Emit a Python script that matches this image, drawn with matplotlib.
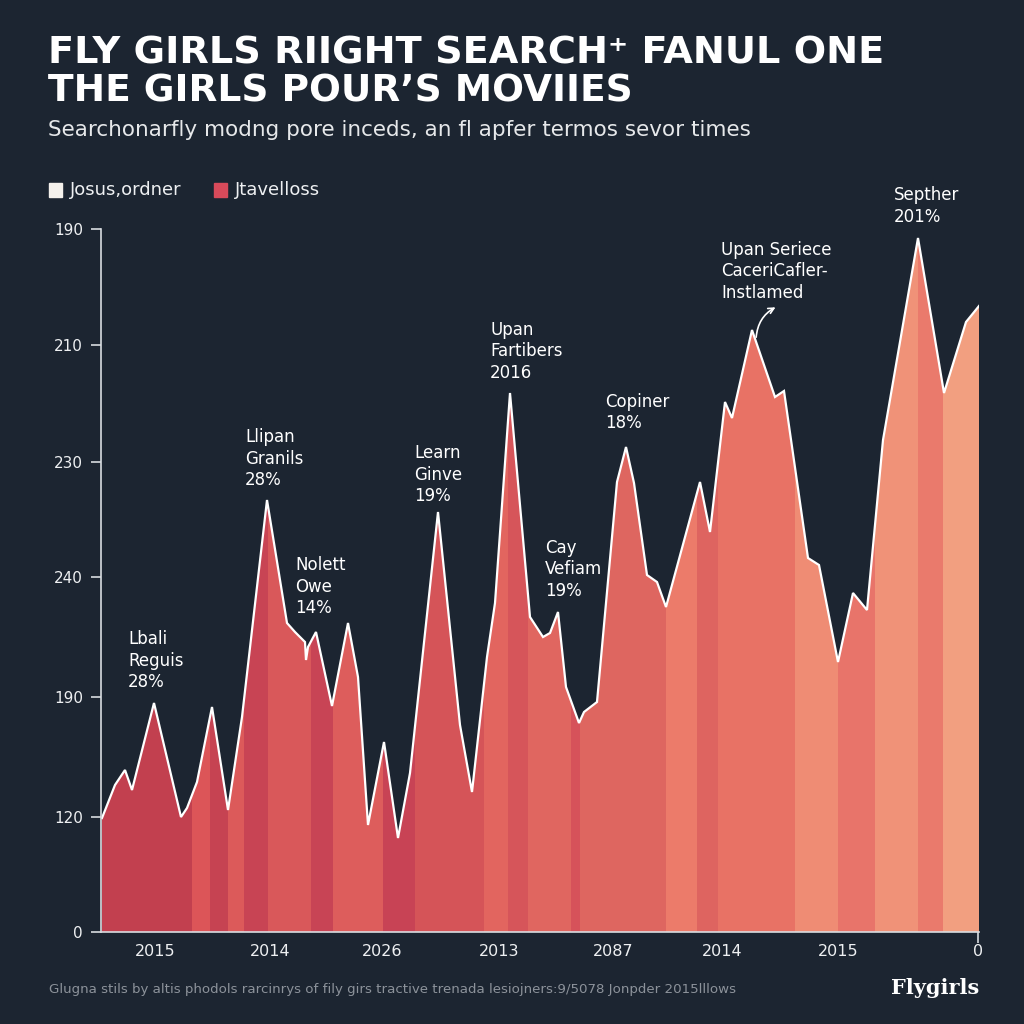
import numpy as np
import matplotlib.pyplot as plt
from matplotlib.patches import Rectangle

# 折线数据（x: 横向位置，y: 高度）
line_x = [1, 14, 24, 31, 53, 80, 86, 96, 111, 127, 141, 166, 186, 194, 204, 205, 207, 215,
          231, 247, 257, 267, 283, 297, 309, 337, 359, 371, 386, 394, 409, 429, 442, 449,
          457, 465, 478, 483, 496, 516, 525, 533, 546, 556, 565, 599, 609, 624, 631, 651,
          674, 683, 707, 718, 737, 752, 766, 782, 817, 843, 865, 878]
line_y = [114, 147, 162, 142, 229, 115, 124, 150, 225, 122, 215, 432, 309, 300, 290, 272, 285, 300,
          226, 309, 255, 107, 190, 94, 159, 420, 207, 140, 275, 329, 539, 315, 295, 299,
          320, 245, 209, 220, 230, 450, 485, 449, 357, 350, 325, 450, 400, 530, 514, 602,
          535, 541, 374, 367, 270, 339, 322, 492, 694, 539, 610, 626]

# 竖向色带
band_edges = [0, 91, 109, 127, 143, 167, 210, 232, 282, 314, 383, 407, 427, 470, 479,
              565, 596, 617, 694, 737, 774, 817, 842, 878]
band_colors = ['#c2404f', '#dc5558', '#c64352', '#dc5a5a', '#c84454', '#d9585a', '#c84455',
               '#dd5d5c', '#c84355', '#d55458', '#e2655f', '#d6555a', '#e06660', '#d6525a',
               '#de6660', '#ec7b6a', '#de6460', '#e87265', '#ef8c74', '#e8746a', '#f09278',
               '#ea7a6c', '#f29f80']

y_tick_pos = [0, 115, 235, 355, 470, 587, 703]
y_tick_labels = ['0', '120', '190', '240', '230', '210', '190']
x_tick_pos = [54, 169, 281, 398, 512, 621, 737, 877]
x_tick_labels = ['2015', '2014', '2026', '2013', '2087', '2014', '2015', '0']

# 注释文字
note_texts = ['Lbali\nReguis\n28%', 'Llipan\nGranils\n28%', 'Nolett\nOwe\n14%',
              'Learn\nGinve\n19%', 'Upan\nFartibers\n2016', 'Cay\nVefiam\n19%',
              'Copiner\n18%', 'Upan Seriece\nCaceriCafler-\nInstlamed', 'Septher\n201%']
note_x = [27, 144, 194, 313, 389, 444, 504, 620, 793]
note_y = [302, 504, 376, 488, 611, 393, 539, 691, 746]

bg = '#1c2531'

def main():
    plt.rcParams['font.family'] = 'DejaVu Sans'
    fig = plt.figure(figsize=(10.24, 10.24), dpi=100, facecolor=bg)
    ax = fig.add_axes([101/1024, 1-932/1024, 878/1024, 703/1024])
    ax.set_facecolor(bg)

    # 先画一个透明的面积，用它的轮廓裁剪色带
    poly = ax.fill_between(line_x, line_y, 0, color='none', lw=0)
    clip = poly.get_paths()[0]
    for i in range(len(band_colors)):
        r = ax.axvspan(band_edges[i], band_edges[i+1], color=band_colors[i], lw=0)
        r.set_clip_path(clip, ax.transData)
    ax.plot(line_x, line_y, color='white', lw=1.6, solid_joinstyle='miter')

    ax.set_xlim(0, 878)
    ax.set_ylim(0, 703)
    for s in ['top', 'right']:
        ax.spines[s].set_visible(False)
    for s in ['left', 'bottom']:
        ax.spines[s].set_color('#d8dce0')
        ax.spines[s].set_linewidth(1.2)

    ax.set_yticks(y_tick_pos)
    ax.set_yticklabels(y_tick_labels)
    ax.tick_params(axis='y', colors='#d8dce0', length=7, width=1.2, labelsize=11, pad=6)
    ax.set_xticks(x_tick_pos)
    ax.set_xticklabels(x_tick_labels)
    ax.tick_params(axis='x', colors='#d8dce0', length=0, labelsize=11.5, pad=9)
    for lab in ax.get_xticklabels() + ax.get_yticklabels():
        lab.set_color('#eef0f2')
    ax.xaxis.get_major_ticks()[-1].tick1line.set_markersize(8)
    ax.xaxis.get_major_ticks()[-1].tick1line.set_markeredgewidth(1.2)

    for t, x, y in zip(note_texts, note_x, note_y):
        ax.text(x, y, t, color='white', fontsize=12, va='top', ha='left',
                linespacing=1.25, clip_on=False)

    ax.annotate('', xy=(677, 626), xytext=(655, 592),
                arrowprops=dict(arrowstyle='->', color='white', lw=1.2,
                                connectionstyle='arc3,rad=-0.3'))

    # 标题
    fig.text(48/1024, 1-63/1024, 'FLY GIRLS RIIGHT SEARCH\u207a FANUL ONE', color='white',
             fontsize=27.5, fontweight='bold', va='baseline')
    fig.text(48/1024, 1-102/1024, 'THE GIRLS POUR\u2019S MOVIIES', color='white',
             fontsize=27, fontweight='bold', va='baseline')
    fig.text(48/1024, 1-130/1024, 'Searchonarfly modng pore inceds, an fl apfer termos sevor times',
             color='#e6e8ea', fontsize=15.5, va='center')

    # 图例
    fig.patches.append(Rectangle((49/1024, 1-197/1024), 13/1024, 14/1024, color='#f4f1ec',
                                 transform=fig.transFigure))
    fig.text(70/1024, 1-190/1024, 'Josus,ordner', color='#eef0f2', fontsize=13, va='center')
    fig.patches.append(Rectangle((214/1024, 1-197/1024), 13/1024, 14/1024, color='#d84a5a',
                                 transform=fig.transFigure))
    fig.text(235/1024, 1-190/1024, 'Jtavelloss', color='#eef0f2', fontsize=13, va='center')

    # 底部说明
    fig.text(49/1024, 1-990/1024,
             'Glugna stils by altis phodols rarcinrys of fily girs tractive trenada lesiojners:9/5078 Jonpder 2015lllows',
             color='#8c929a', fontsize=9.6, va='center')
    fig.text(979/1024, 1-988/1024, 'Flygirls', color='white', fontsize=15, fontweight='bold',
             family='DejaVu Serif', ha='right', va='center')

    fig.savefig('out.png', dpi=100, facecolor=bg)

if __name__ == '__main__':
    main()
